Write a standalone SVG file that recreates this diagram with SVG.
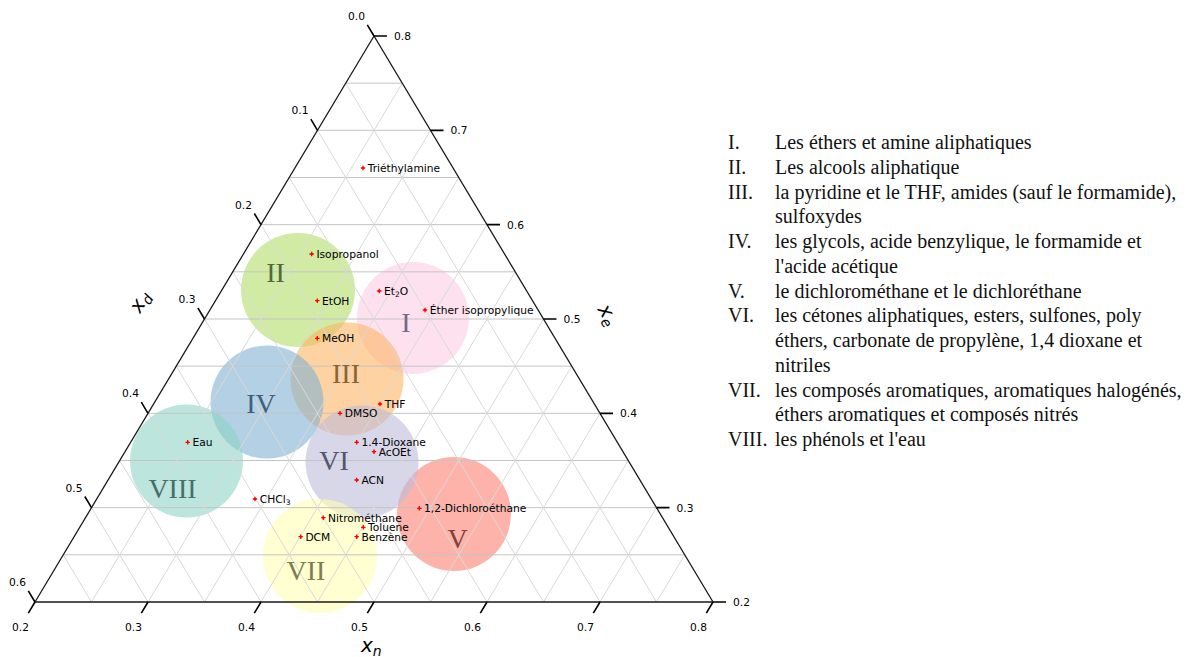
<svg xmlns="http://www.w3.org/2000/svg" xmlns:xlink="http://www.w3.org/1999/xlink" width="1188" height="657" viewBox="0 0 1188 657">
<defs>
<g id="pt"><path d="M-2.2,0H2.2M0,-2.2V2.2" stroke="#ff0000" stroke-width="1.3"/><circle r="1.1" fill="#ff0000"/></g>
</defs>
<style>
.circ{fill-opacity:0.6;stroke:none}
.num{font-family:"Liberation Serif","Times New Roman",serif;font-size:28px;text-anchor:middle}
.gh{stroke:#c4c4c4;stroke-width:1;fill:none}
.gd{stroke:#d9d9d9;stroke-width:1;fill:none}
.axis{stroke:#1a1a1a;stroke-width:1.3;fill:none}
.tick{stroke:#000;stroke-width:1.6;fill:none}
.tl{font-family:"DejaVu Sans",sans-serif;font-size:10.7px;fill:#000}
.tm{text-anchor:middle}
.lbl{font-family:"DejaVu Sans",sans-serif;font-size:10.7px;fill:#000}
.ax{font-family:"DejaVu Sans",sans-serif;font-size:20px;font-style:italic;fill:#000}
.leg{font-family:"Liberation Serif","Times New Roman",serif;font-size:20px;fill:#111}
</style>
<rect width="1188" height="657" fill="#ffffff"/>

<g id="regions">
<g id="region-I"><circle class="circ" cx="413" cy="318" r="56" fill="#fccde5"/></g>
<g id="region-II"><circle class="circ" cx="298" cy="290" r="57" fill="#b3de69"/></g>
<g id="region-III"><circle class="circ" cx="347" cy="379" r="56.5" fill="#fdb462"/></g>
<g id="region-IV"><circle class="circ" cx="267" cy="402" r="56.5" fill="#80b1d3"/></g>
<g id="region-V"><circle class="circ" cx="454" cy="514" r="57" fill="#fb8072"/></g>
<g id="region-VI"><circle class="circ" cx="362" cy="462" r="56.5" fill="#bebada"/></g>
<g id="region-VII"><circle class="circ" cx="320" cy="556" r="57" fill="#ffffb3"/></g>
<g id="region-VIII"><circle class="circ" cx="186.5" cy="461" r="56.5" fill="#8dd3c7"/></g>
</g>

<g id="grid">
<path class="gh" d="M345.75,83.17H402.25M317.5,130.33H430.5M289.25,177.5H458.75M261,224.67H487M232.75,271.83H515.25M204.5,319H543.5M176.25,366.17H571.75M148,413.33H600M119.75,460.5H628.25M91.5,507.67H656.5M63.25,554.83H684.75"/>
<path class="gd" d="M91.5,602L402.25,83.17M148,602L430.5,130.33M204.5,602L458.75,177.5M261,602L487,224.67M317.5,602L515.25,271.83M374,602L543.5,319M430.5,602L571.75,366.17M487,602L600,413.33M543.5,602L628.25,460.5M600,602L656.5,507.67M656.5,602L684.75,554.83"/>
<path class="gd" d="M91.5,602L63.25,554.83M148,602L91.5,507.67M204.5,602L119.75,460.5M261,602L148,413.33M317.5,602L176.25,366.17M374,602L204.5,319M430.5,602L232.75,271.83M487,602L261,224.67M543.5,602L289.25,177.5M600,602L317.5,130.33M656.5,602L345.75,83.17"/>
</g>

<g id="numerals">
<text class="num" x="406" y="332" fill="#6e6a88">I</text>
<text class="num" x="275.5" y="282" fill="#4f6a3e">II</text>
<text class="num" x="346" y="383" fill="#8c6232">III</text>
<text class="num" x="261" y="413" fill="#3d5f7c">IV</text>
<text class="num" x="457.5" y="548" fill="#7e423a">V</text>
<text class="num" x="334" y="470" fill="#55546e">VI</text>
<text class="num" x="306" y="580" fill="#7e7c50">VII</text>
<text class="num" x="172.5" y="498" fill="#437068">VIII</text>
</g>

<g id="axes">
<path class="axis" d="M374,36L35,602L713,602Z"/>
<path class="tick" d="M374,36l-6.68,-11.15M317.5,130.33l-6.68,-11.15M261,224.67l-6.68,-11.15M204.5,319l-6.68,-11.15M148,413.33l-6.68,-11.15M91.5,507.67l-6.68,-11.15M35,602l-6.68,-11.15"/>
<path class="tick" d="M374,36h13M430.5,130.33h13M487,224.67h13M543.5,319h13M600,413.33h13M656.5,507.67h13M713,602h13"/>
<path class="tick" d="M35,602l-6.68,11.15M148,602l-6.68,11.15M261,602l-6.68,11.15M374,602l-6.68,11.15M487,602l-6.68,11.15M600,602l-6.68,11.15M713,602l-6.68,11.15"/>
<g class="tl tm">
<text x="356.5" y="19.9">0.0</text>
<text x="300" y="114.2">0.1</text>
<text x="243.5" y="208.6">0.2</text>
<text x="187" y="302.9">0.3</text>
<text x="130.5" y="397.2">0.4</text>
<text x="74" y="491.6">0.5</text>
<text x="17.5" y="585.9">0.6</text>
<text x="20.5" y="630.6">0.2</text>
<text x="133.5" y="630.6">0.3</text>
<text x="246.5" y="630.6">0.4</text>
<text x="359.5" y="630.6">0.5</text>
<text x="472.5" y="630.6">0.6</text>
<text x="585.5" y="630.6">0.7</text>
<text x="698.5" y="630.6">0.8</text>
</g>
<g class="tl">
<text x="394" y="39.9">0.8</text>
<text x="450.5" y="134.2">0.7</text>
<text x="507" y="228.6">0.6</text>
<text x="563.5" y="322.9">0.5</text>
<text x="620" y="417.2">0.4</text>
<text x="676.5" y="511.6">0.3</text>
<text x="733" y="605.9">0.2</text>
</g>
<text class="ax" transform="translate(142,303) rotate(-59)" text-anchor="middle" y="4">x<tspan font-size="14" dy="4">d</tspan></text>
<text class="ax" transform="translate(606,316) rotate(59)" text-anchor="middle" y="4">x<tspan font-size="14" dy="4">e</tspan></text>
<text class="ax" x="361" y="652">x<tspan font-size="14" dy="4">n</tspan></text>
</g>

<g id="points">
<g id="p-triethylamine"><use href="#pt" x="363" y="168"/><text class="lbl" x="367.7" y="171.9">Triéthylamine</text></g>
<g id="p-isopropanol"><use href="#pt" x="311.7" y="254"/><text class="lbl" x="316.4" y="257.9">Isopropanol</text></g>
<g id="p-et2o"><use href="#pt" x="379.3" y="291"/><text class="lbl" x="384" y="294.9">Et<tspan font-size="7.5" dy="2.5">2</tspan><tspan dy="-2.5">O</tspan></text></g>
<g id="p-etoh"><use href="#pt" x="317.3" y="300.7"/><text class="lbl" x="322" y="304.6">EtOH</text></g>
<g id="p-ether-iso"><use href="#pt" x="425" y="310"/><text class="lbl" x="429.7" y="313.9">Éther isopropylique</text></g>
<g id="p-meoh"><use href="#pt" x="317.3" y="338.3"/><text class="lbl" x="322" y="342.2">MeOH</text></g>
<g id="p-thf"><use href="#pt" x="380" y="404"/><text class="lbl" x="384.7" y="407.9">THF</text></g>
<g id="p-dmso"><use href="#pt" x="340" y="413.3"/><text class="lbl" x="344.7" y="417.2">DMSO</text></g>
<g id="p-dioxane"><use href="#pt" x="356.7" y="442.3"/><text class="lbl" x="361.4" y="446.2">1.4-Dioxane</text></g>
<g id="p-acoet"><use href="#pt" x="374" y="451.7"/><text class="lbl" x="378.7" y="455.6">AcOEt</text></g>
<g id="p-eau"><use href="#pt" x="187.7" y="442.3"/><text class="lbl" x="192.4" y="446.2">Eau</text></g>
<g id="p-acn"><use href="#pt" x="356.7" y="480"/><text class="lbl" x="361.4" y="483.9">ACN</text></g>
<g id="p-chcl3"><use href="#pt" x="255" y="499"/><text class="lbl" x="259.7" y="502.9">CHCl<tspan font-size="7.5" dy="2.5">3</tspan></text></g>
<g id="p-dce"><use href="#pt" x="419.3" y="508.3"/><text class="lbl" x="424" y="512.2">1,2-Dichloroéthane</text></g>
<g id="p-nitromethane"><use href="#pt" x="323.3" y="517.7"/><text class="lbl" x="328" y="521.6">Nitrométhane</text></g>
<g id="p-toluene"><use href="#pt" x="363.3" y="527.3"/><text class="lbl" x="368" y="531.2">Toluene</text></g>
<g id="p-dcm"><use href="#pt" x="300.7" y="536.7"/><text class="lbl" x="305.4" y="540.6">DCM</text></g>
<g id="p-benzene"><use href="#pt" x="356.7" y="536.7"/><text class="lbl" x="361.4" y="540.6">Benzène</text></g>
</g>

<g id="legend" class="leg">
<text x="728" y="149">I.</text><text x="775" y="149">Les éthers et amine aliphatiques</text>
<text x="728" y="173.75">II.</text><text x="775" y="173.75">Les alcools aliphatique</text>
<text x="728" y="198.5">III.</text><text x="775" y="198.5">la pyridine et le THF, amides (sauf le formamide),</text>
<text x="775" y="223.25">sulfoxydes</text>
<text x="728" y="248">IV.</text><text x="775" y="248">les glycols, acide benzylique, le formamide et</text>
<text x="775" y="272.75">l'acide acétique</text>
<text x="728" y="297.5">V.</text><text x="775" y="297.5">le dichlorométhane et le dichloréthane</text>
<text x="728" y="322.25">VI.</text><text x="775" y="322.25">les cétones aliphatiques, esters, sulfones, poly</text>
<text x="775" y="347">éthers, carbonate de propylène, 1,4 dioxane et</text>
<text x="775" y="371.75">nitriles</text>
<text x="728" y="396.5">VII.</text><text x="775" y="396.5">les composés aromatiques, aromatiques halogénés,</text>
<text x="775" y="421.25">éthers aromatiques et composés nitrés</text>
<text x="728" y="446">VIII.</text><text x="775" y="446">les phénols et l'eau</text>
</g>
</svg>
